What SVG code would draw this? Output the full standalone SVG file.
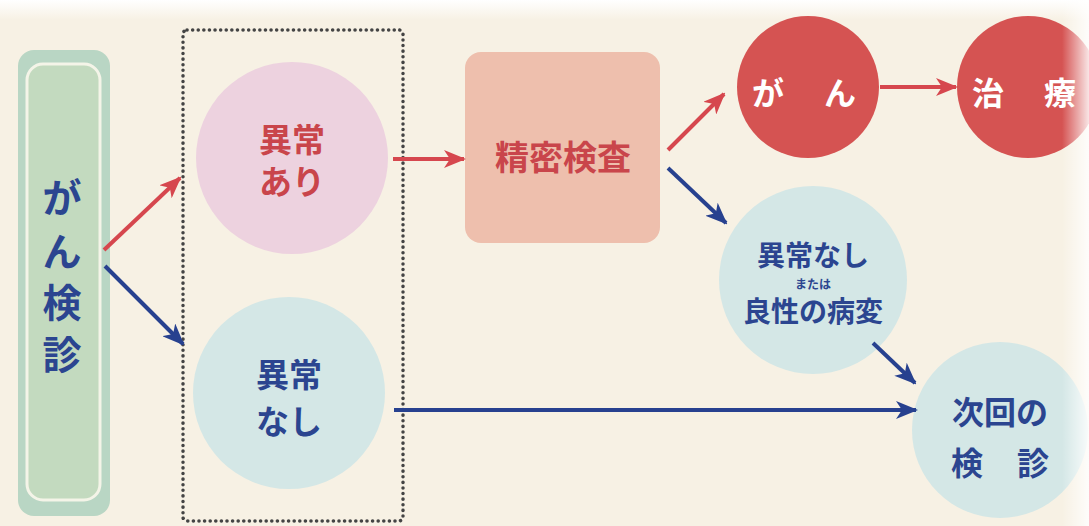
<svg xmlns="http://www.w3.org/2000/svg" width="1089" height="526" viewBox="0 0 1089 526">
<defs>
<style>
.t{font-family:"Noto Sans CJK JP","Noto Sans CJK SC",sans-serif;font-weight:700;text-anchor:middle;dominant-baseline:central}
.red{fill:#c9454b}
.navy{fill:#2b4590}
.white{fill:#ffffff}
.ar{fill:none;stroke:#d6474e;stroke-width:4}
.ab{fill:none;stroke:#27418f;stroke-width:4}
</style>
<marker id="mr" viewBox="0 0 22 18" refX="20" refY="9" markerWidth="22" markerHeight="18" markerUnits="userSpaceOnUse" orient="auto">
<path d="M0,0 L22,9 L0,18 L6,9 Z" fill="#d6474e"/>
</marker>
<marker id="mb" viewBox="0 0 22 18" refX="20" refY="9" markerWidth="22" markerHeight="18" markerUnits="userSpaceOnUse" orient="auto">
<path d="M0,0 L22,9 L0,18 L6,9 Z" fill="#27418f"/>
</marker>
<linearGradient id="topfade" x1="0" y1="0" x2="0" y2="1">
<stop offset="0" stop-color="#ffffff"/>
<stop offset="1" stop-color="#f7f1e4"/>
</linearGradient>
<linearGradient id="rightfade" x1="0" y1="0" x2="1" y2="0">
<stop offset="0" stop-color="#ffffff" stop-opacity="0"/>
<stop offset="1" stop-color="#ffffff" stop-opacity="0.85"/>
</linearGradient>
</defs>
<rect x="0" y="0" width="1089" height="526" fill="#f7f1e4"/>
<rect x="0" y="0" width="1089" height="20" fill="url(#topfade)"/>

<g id="kenshin">
<rect x="18" y="50" width="92" height="466" rx="16" fill="#b9d6c4"/>
<rect x="27" y="64" width="73" height="436" rx="16" fill="#c3dabf" stroke="#f4f4e8" stroke-width="3"/>
<text class="t navy" x="62" y="195" font-size="39">が</text>
<text class="t navy" x="62" y="249" font-size="39">ん</text>
<text class="t navy" x="62" y="300" font-size="39">検</text>
<text class="t navy" x="62" y="352" font-size="39">診</text>
</g>

<g id="group-box">
<rect x="183" y="30" width="220" height="491" rx="4" fill="none" stroke="#444444" stroke-width="3.5" stroke-dasharray="0.1 5.5" stroke-linecap="round"/>
</g>

<g id="ijou-ari">
<circle cx="292" cy="158" r="96" fill="#edd2df"/>
<text class="t red" x="292" y="138" font-size="33">異常</text>
<text class="t red" x="292" y="180" font-size="33">あり</text>
</g>

<g id="ijou-nashi">
<circle cx="289" cy="393" r="96" fill="#d4e7e6"/>
<text class="t navy" x="289" y="373" font-size="33">異常</text>
<text class="t navy" x="289" y="420" font-size="33">なし</text>
</g>

<g id="seimitsu">
<rect x="465" y="52" width="195" height="191" rx="16" fill="#eebfad"/>
<text class="t red" x="563" y="155" font-size="34">精密検査</text>
</g>

<g id="gan">
<circle cx="808" cy="87" r="71" fill="#d55352"/>
<text class="t white" x="768" y="91" font-size="32">が</text>
<text class="t white" x="840" y="91" font-size="32">ん</text>
</g>

<g id="chiryou">
<circle cx="1028" cy="87" r="71" fill="#d55352"/>
<text class="t white" x="988" y="91" font-size="32">治</text>
<text class="t white" x="1060" y="91" font-size="32">療</text>
</g>

<g id="ijou-nashi2">
<circle cx="813" cy="280" r="94" fill="#d4e7e6"/>
<text class="t navy" x="813" y="254" font-size="28">異常なし</text>
<text class="t navy" x="813" y="283" font-size="12">または</text>
<text class="t navy" x="813" y="310" font-size="28">良性の病変</text>
</g>

<g id="jikai">
<circle cx="1000" cy="430" r="88" fill="#d4e7e6"/>
<text class="t navy" x="1000" y="410" font-size="32">次回の</text>
<text class="t navy" x="967" y="461" font-size="32">検</text>
<text class="t navy" x="1033" y="461" font-size="32">診</text>
</g>

<rect x="1062" y="0" width="27" height="526" fill="url(#rightfade)"/>

<g id="connectors">
<line class="ar" x1="104" y1="250" x2="180" y2="178" marker-end="url(#mr)"/>
<line class="ab" x1="105" y1="266" x2="183" y2="344" marker-end="url(#mb)"/>
<line class="ar" x1="393" y1="159" x2="464" y2="159" marker-end="url(#mr)"/>
<line class="ar" x1="668" y1="150" x2="724" y2="94" marker-end="url(#mr)"/>
<line class="ab" x1="668" y1="168" x2="726" y2="223" marker-end="url(#mb)"/>
<line class="ar" x1="880" y1="87" x2="956" y2="87" marker-end="url(#mr)"/>
<line class="ab" x1="873" y1="343" x2="915" y2="383" marker-end="url(#mb)"/>
<line class="ab" x1="394" y1="410" x2="916" y2="410" marker-end="url(#mb)"/>
</g>
</svg>
